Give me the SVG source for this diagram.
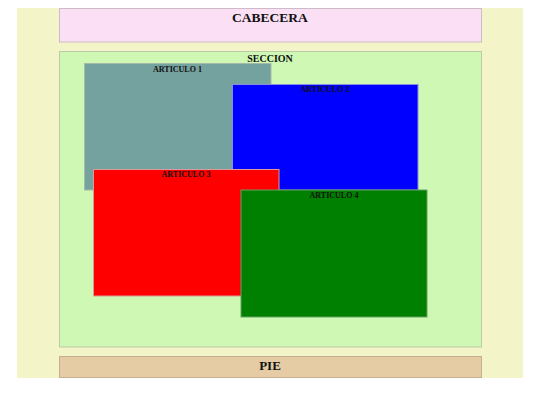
<svg xmlns="http://www.w3.org/2000/svg" width="540" height="405" viewBox="0 0 540 405">
<style>
.b{stroke-width:1}
.t{font-family:"Liberation Serif","Times New Roman",serif;font-weight:bold;text-anchor:middle;fill:#111}
</style>
<rect x="0" y="0" width="540" height="405" fill="#ffffff"/>
<g id="pagina"><rect x="17" y="8" width="506" height="370" fill="#f3f4c7"/></g>
<g id="cabecera">
<rect x="59.5" y="8.5" width="422" height="33.5" fill="#fbdff5" stroke="#cdbcc8" class="b"/>
<text x="270" y="21.5" class="t" font-size="13.5">CABECERA</text>
</g>
<g id="seccion">
<rect x="59.5" y="51.5" width="422" height="295.5" fill="#cff8b5" stroke="#bccaa8" class="b"/>
<text x="270" y="61.5" class="t" font-size="10">SECCION</text>
</g>
<g id="articulo1">
<rect x="84.5" y="63.5" width="186.5" height="126.5" fill="#74a29e" stroke="#a8b8a8" class="b"/>
<text x="177.5" y="71.5" class="t" font-size="8">ARTICULO 1</text>
</g>
<g id="articulo2">
<rect x="232.5" y="84.5" width="185.5" height="105.5" fill="#0000ff" stroke="#8a8ae0" class="b"/>
<text x="325" y="91.5" class="t" font-size="8">ARTICULO 2</text>
</g>
<g id="articulo3">
<rect x="93.5" y="169.5" width="185.5" height="126.5" fill="#ff0000" stroke="#d89a9a" class="b"/>
<text x="186" y="177" class="t" font-size="8">ARTICULO 3</text>
</g>
<g id="articulo4">
<rect x="241" y="190" width="186" height="127" fill="#008000" stroke="#66a060" class="b"/>
<text x="334" y="197.5" class="t" font-size="8">ARTICULO 4</text>
</g>
<g id="pie">
<rect x="59.5" y="356.5" width="422" height="21" fill="#e6cca5" stroke="#c4b090" class="b"/>
<text x="270" y="369.5" class="t" font-size="13">PIE</text>
</g>
<g id="connectors"></g>
</svg>
